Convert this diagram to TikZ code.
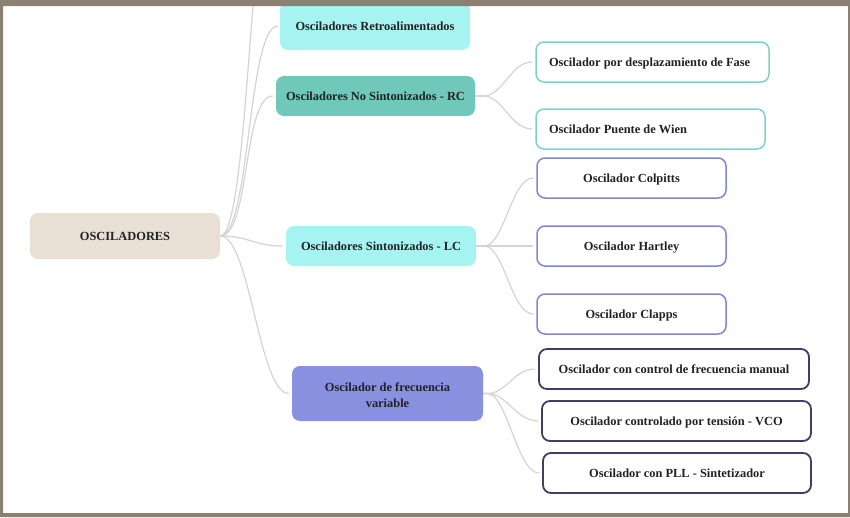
\documentclass[tikz,border=0pt]{standalone}
\usepackage{fontspec}
\setmainfont{Liberation Serif}
\usepackage{tikz}
\usetikzlibrary{positioning}
\usepackage{xcolor}
\definecolor{osframe}{HTML}{8B8071}
\definecolor{osbeige}{HTML}{E8DFD5}
\definecolor{oscyan}{HTML}{A6F4F1}
\definecolor{osteal}{HTML}{6FC8BA}
\definecolor{osviolet}{HTML}{8890E0}
\definecolor{osmint}{HTML}{7DD3C9}
\definecolor{osblue}{HTML}{7F87CF}
\definecolor{osnavy}{HTML}{3F3F66}
\definecolor{oswire}{HTML}{D4D4D4}
\definecolor{osink}{HTML}{222222}

\begin{document}
\begin{tikzpicture}[
  x=1pt, y=-1pt,
  font=\bfseries\fontsize{12.4}{15.5}\selectfont,
  box/.style={
    rounded corners=8pt, text=osink, align=center,
    minimum height=40pt, inner sep=4pt
  },
  oneline/.style={text height=10pt, text depth=1pt},
  root/.style={box, oneline, fill=osbeige, minimum width=190pt, minimum height=46pt},
  group/.style={box, oneline, fill=oscyan, minimum width=190pt},
  leafrc/.style={box, oneline, fill=white, draw=osmint, line width=1.5pt,
    align=flush left, inner xsep=13pt},
  leaflc/.style={box, oneline, fill=white, draw=osblue, line width=1.5pt, minimum width=189pt},
  leafvar/.style={box, oneline, fill=white, draw=osnavy, line width=1.8pt},
  link/.style={draw=oswire, line width=1.2pt},
]
\clip (0,0) rectangle (850,517);
\fill[white] (0,0) rectangle (850,517);

% Root and first level
\node[root] (osc) at (125,236) {OSCILADORES};
\node[group, minimum height=48pt] (retro) at (375,26) {Osciladores Retroalimentados};
\node[group, fill=osteal, minimum width=199pt] (rc) at (375.5,96) {Osciladores No Sintonizados - RC};
\node[group] (lc) at (381,246) {Osciladores Sintonizados - LC};
\node[box, fill=osviolet, minimum width=191pt, minimum height=55pt] (var) at (387.5,393.5)
  {\rule{0pt}{12pt}Oscilador de frecuencia\\variable};
\coordinate (hidden) at (280,-150);

% RC branch
\node[leafrc, text width=207pt] (fase) at (652.5,62) {Oscilador por desplazamiento de Fase};
\node[leafrc, text width=203pt, below=25.5pt of fase.south west, anchor=north west] (wien)
  {Oscilador Puente de Wien};

% LC branch
\node[leaflc] (colpitts) at (631.5,178) {Oscilador Colpitts};
\node[leaflc, below=26.5pt of colpitts] (hartley) {Oscilador Hartley};
\node[leaflc, below=26.5pt of hartley] (clapps) {Oscilador Clapps};

% Variable frequency branch
\node[leafvar, minimum width=270pt] (manual) at (674,369) {Oscilador con control de frecuencia manual};
\node[leafvar, minimum width=269pt, below=10.2pt of manual, xshift=2.5pt] (vco)
  {Oscilador controlado por tensión - VCO};
\node[leafvar, minimum width=268pt, below=10.2pt of vco, xshift=0.5pt] (pll)
  {Oscilador con PLL - Sintetizador};

% Links from the root
\draw[link] (osc.east) .. controls +(30,0) and +(-30,0) .. (hidden);
\draw[link] (osc.east) .. controls +(30,0) and +(-30,0) .. ([xshift=-2pt]retro.west);
\draw[link] (osc.east) .. controls +(30,0) and +(-30,0) .. ([xshift=-3pt]rc.west);
\draw[link] (osc.east) .. controls +(30,0) and +(-30,0) .. ([xshift=-3pt]lc.west);
\draw[link] (osc.east) .. controls +(30,0) and +(-30,0) .. ([xshift=-3pt]var.west);

% Links to the leaves
\draw[link] (rc.east) -- +(8,0) .. controls +(20,0) and +(-22,0) .. ([xshift=-3pt]fase.west);
\draw[link] (rc.east) -- +(8,0) .. controls +(20,0) and +(-22,0) .. ([xshift=-3pt]wien.west);
\foreach \leaf in {colpitts, hartley, clapps}
  \draw[link] (lc.east) -- +(8,0) .. controls +(20,0) and +(-22,0) .. ([xshift=-3pt]\leaf.west);
\foreach \leaf in {manual, vco, pll}
  \draw[link] (var.east) -- +(4,0) .. controls +(20,0) and +(-22,0) .. ([xshift=-3pt]\leaf.west);

% Window frame
\fill[osframe, even odd rule] (0,0) rectangle (850,517) (3,6) rectangle (848,513);
\end{tikzpicture}
\end{document}
